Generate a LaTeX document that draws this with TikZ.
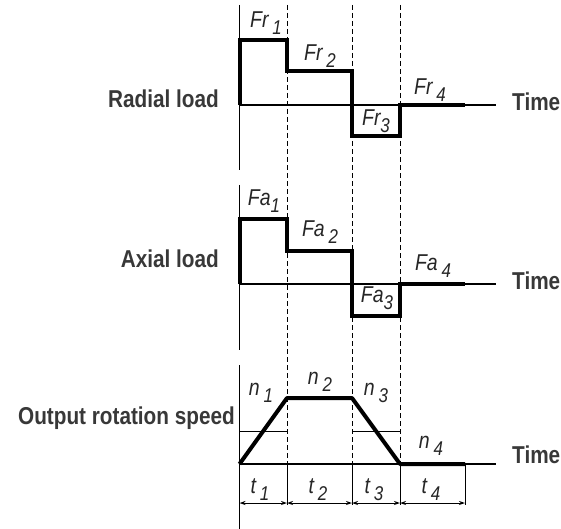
\documentclass[tikz,border=0pt]{standalone}
\usepackage{fontspec}
\setmainfont{Liberation Sans}
\newfontfamily\narrowfont[FakeStretch=0.85]{Liberation Sans}
\usetikzlibrary{arrows.meta}
\newcommand\vlab[2]{#1\raisebox{-0.3em}{\fontsize{20}{20}\selectfont #2}}
\begin{document}
\begin{tikzpicture}[x=1bp,y=-1bp,
  axisline/.style={line width=1.8bp,black},
  baseln/.style={line width=1.5bp,black},
  loadline/.style={line width=4bp,black,line join=miter},
  guide/.style={line width=0.9bp,dash pattern=on 5bp off 3bp},
  extline/.style={line width=0.9bp},
  thinline/.style={line width=0.8bp},
  dimline/.style={line width=0.7bp,{Stealth[length=6bp,width=4bp,open]}-{Stealth[length=6bp,width=4bp,open]}},
  axlabel/.style={font=\narrowfont\fontsize{24.5}{26}\selectfont\bfseries,text=black!78,inner sep=0},
  var/.style={font=\narrowfont\fontsize{23}{24}\selectfont\itshape,text=black!85,inner sep=0}]
\useasboundingbox (0,0) rectangle (561,529);

% key x positions
\def\xa{239.5}\def\xb{287}\def\xc{352}\def\xd{400}\def\xe{465}\def\xf{496}

% axes (with gaps)
\coordinate (a1t) at (\xa,5);   \coordinate (a1b) at (\xa,170);
\coordinate (a2t) at (\xa,185); \coordinate (a2b) at (\xa,350);
\coordinate (a3t) at (\xa,365); \coordinate (a3b) at (\xa,529);
\draw[axisline] (a1t) -- (a1b);
\draw[axisline] (a2t) -- (a2b);
\draw[axisline] (a3t) -- (a3b);

% time baselines
\coordinate (r0) at (\xa,105); \coordinate (rE) at (\xf,105);
\coordinate (f0) at (\xa,284); \coordinate (fE) at (\xf,284);
\coordinate (s0) at (\xa,464); \coordinate (sE) at (\xf,464);
\draw[baseln] (r0) -- (rE);
\draw[baseln] (f0) -- (fE);
\draw[baseln] (s0) -- (sE);

% dashed guides and extension lines
\foreach \x/\n in {\xb/g1,\xc/g2,\xd/g3}{
  \coordinate (\n t) at (\x,5);
  \coordinate (\n m) at (\x,464);
  \coordinate (\n b) at (\x,505);
  \draw[guide] (\n t) -- (\n m);
  \draw[extline] (\n m) -- (\n b);
}
\coordinate (g4m) at (\xe,464); \coordinate (g4b) at (\xe,505);
\draw[extline] (g4m) -- (g4b);

% radial load
\draw[loadline] (r0) -- (\xa,40) -- (\xb,40) -- (\xb,71) -- (\xc,71) -- (\xc,136) -- (\xd,136) -- (\xd,105) -- (\xe,105);
% axial load
\draw[loadline] (f0) -- (\xa,219) -- (\xb,219) -- (\xb,251) -- (\xc,251) -- (\xc,316) -- (\xd,316) -- (\xd,284) -- (\xe,284);
% speed helper lines
\coordinate (h1a) at (\xa,431); \coordinate (h1b) at (\xb,431);
\coordinate (h2a) at (\xc,431); \coordinate (h2b) at (\xd,431);
\draw[thinline] (h1a) -- (h1b);
\draw[thinline] (h2a) -- (h2b);
% speed
\draw[loadline,line join=round] (s0) -- (\xb,398) -- (\xc,398) -- (\xd,464) -- (\xe,464);

% dimension arrows
\coordinate (d0) at (\xa,503); \coordinate (d1) at (\xb,503);
\coordinate (d2) at (\xc,503); \coordinate (d3) at (\xd,503);
\coordinate (d4) at (\xe,503);
\draw[dimline] (d0) -- (d1);
\draw[dimline] (d1) -- (d2);
\draw[dimline] (d2) -- (d3);
\draw[dimline] (d3) -- (d4);

% axis labels
\node[axlabel,anchor=east] (lr) at (219,99) {Radial load};
\node[axlabel,anchor=east] (la) at (219,259) {Axial load};
\node[axlabel,anchor=east] (ls) at (235,418) {Output rotation speed};
\node[axlabel,anchor=west] (t1lab) at (512,102) {Time};
\node[axlabel,anchor=west] (t2lab) at (512,281) {Time};
\node[axlabel,anchor=west] (t3lab) at (512,455) {Time};

% variable labels
\node[var] (fr1) at (266,23) {\vlab{Fr\,}{1}};
\node[var] (fr2) at (320,56) {\vlab{Fr\,}{2}};
\node[var] (fr3) at (376,121) {\vlab{Fr}{3}};
\node[var] (fr4) at (430,90) {\vlab{Fr\,}{4}};
\node[var] (fa1) at (264,201) {\vlab{Fa}{1}};
\node[var] (fa2) at (320,232) {\vlab{Fa\,}{2}};
\node[var] (fa3) at (377,298) {\vlab{Fa}{3}};
\node[var] (fa4) at (433,266) {\vlab{Fa\,}{4}};
\node[var] (n1) at (261,393) {\vlab{n\,}{1}};
\node[var] (n2) at (320,382) {\vlab{n\,}{2}};
\node[var] (n3) at (376,393) {\vlab{n\,}{3}};
\node[var] (n4) at (431,446) {\vlab{n\,}{4}};
\node[var] (t1) at (260,490) {\vlab{t\,}{1}};
\node[var] (t2) at (318,490) {\vlab{t\,}{2}};
\node[var] (t3) at (374,490) {\vlab{t\,}{3}};
\node[var] (t4) at (431,490) {\vlab{t\,}{4}};
\end{tikzpicture}
\end{document}
